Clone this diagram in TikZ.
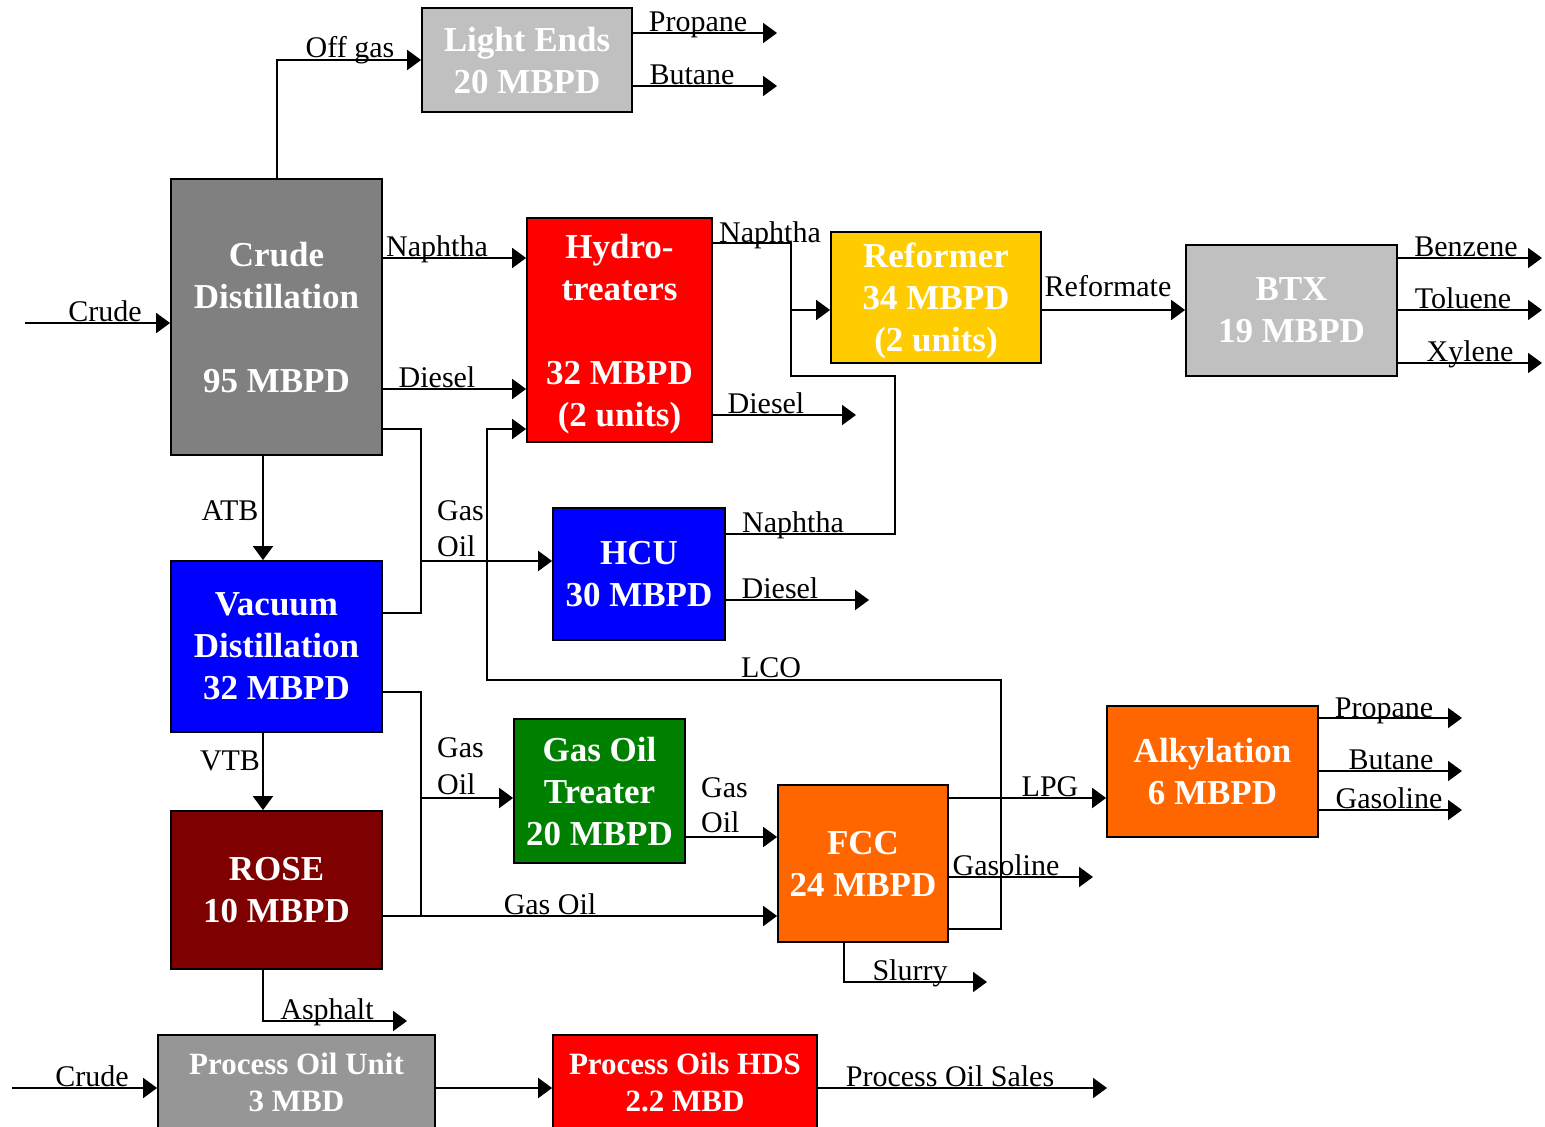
\documentclass[tikz,border=0pt]{standalone}
\usepackage{fontspec}
\setmainfont{Liberation Serif}
\usetikzlibrary{arrows.meta}
\definecolor{cdugray}{HTML}{808080}
\definecolor{ltgray}{HTML}{C0C0C0}
\definecolor{pougray}{HTML}{969696}
\definecolor{refyel}{HTML}{FFCC00}
\definecolor{htred}{HTML}{FF0000}
\definecolor{vblue}{HTML}{0000FF}
\definecolor{ggreen}{HTML}{008000}
\definecolor{forange}{HTML}{FF6600}
\definecolor{rosered}{HTML}{7F0000}
\tikzset{
  box/.style={draw=black, line width=1.8pt, inner sep=0pt, align=center, text=white,
    text depth=-6pt, font=\bfseries\fontsize{35}{42}\selectfont},
  sbox/.style={box, text depth=-2pt, font=\bfseries\fontsize{31}{37}\selectfont},
  arr/.style={line width=2pt, -{Triangle[length=14pt,width=20pt]}},
  plain/.style={line width=1.6pt},
  lab/.style={font=\fontsize{30}{34}\selectfont, inner sep=0pt, anchor=base},
  labl/.style={lab, anchor=base west}
}
\begin{document}
\begin{tikzpicture}[x=1pt,y=-1pt]
\useasboundingbox (0,0) rectangle (1545,1127);
\clip (0,0) rectangle (1545,1127);
% boxes
\node[box, fill=ltgray, minimum width=210pt, minimum height=104pt] (le) at (527,60) {Light Ends\\20 MBPD};
\node[box, fill=cdugray, minimum width=211pt, minimum height=276pt] (cdu) at (276.5,317) {Crude\\Distillation\\[42pt]95 MBPD};
\node[box, fill=htred, minimum width=185pt, minimum height=224pt] (ht) at (619.5,330) {Hydro-\\treaters\\[42pt]32 MBPD\\(2 units)};
\node[box, fill=refyel, minimum width=210pt, minimum height=131pt] (ref) at (936,297.5) {Reformer\\34 MBPD\\(2 units)};
\node[box, fill=ltgray, minimum width=211pt, minimum height=131pt] (btx) at (1291.5,310.5) {BTX\\19 MBPD};
\node[box, fill=vblue, minimum width=172pt, minimum height=132pt] (hcu) at (639,574) {HCU\\30 MBPD};
\node[box, fill=vblue, minimum width=211pt, minimum height=171pt] (vdu) at (276.5,646.5) {Vacuum\\Distillation\\32 MBPD};
\node[box, fill=ggreen, minimum width=171pt, minimum height=144pt] (got) at (599.5,791) {Gas Oil\\Treater\\20 MBPD};
\node[box, fill=forange, minimum width=170pt, minimum height=157pt] (fcc) at (863,863.5) {FCC\\24 MBPD};
\node[box, fill=forange, minimum width=211pt, minimum height=131pt] (alk) at (1212.5,771.5) {Alkylation\\6 MBPD};
\node[box, fill=rosered, minimum width=211pt, minimum height=158pt] (rose) at (276.5,890) {ROSE\\10 MBPD};
\node[sbox, fill=pougray, minimum width=277pt, minimum height=95pt] (pou) at (296.5,1082.5) {Process Oil Unit\\3 MBD};
\node[sbox, fill=htred, minimum width=264pt, minimum height=95pt] (hds) at (685,1082.5) {Process Oils HDS\\2.2 MBD};
% free ends and junctions
\coordinate (cin) at (25,323);
\coordinate (cin2) at (12,1088);
\coordinate (pro1) at (777,33);
\coordinate (but1) at (777,86);
\coordinate (j1) at (421,561);
\coordinate (j2) at (421,798);
\coordinate (j3) at (421,916);
\coordinate (l1) at (1001,680);
\coordinate (l2) at (487,680);
\coordinate (n1) at (791,310);
\coordinate (n2) at (895,376);
\coordinate (dsl1) at (856,415);
\coordinate (dsl2) at (869,600);
\coordinate (benz) at (1542,258);
\coordinate (tol) at (1542,310);
\coordinate (xyl) at (1542,363);
\coordinate (gas1) at (1093,877);
\coordinate (slur) at (987,982);
\coordinate (pro2) at (1462,718);
\coordinate (but2) at (1462,771);
\coordinate (gas2) at (1462,810);
\coordinate (asph) at (407,1021);
\coordinate (sales) at (1107,1088);
% connectors
\draw[arr] (cdu.north) |- (le.west);
\draw[arr] (le.east |- pro1) -- (pro1);
\draw[arr] (le.east |- but1) -- (but1);
\draw[arr] (cin) -- (cdu.west |- cin);
\draw[arr] (cdu.east |- 0,258) -- (ht.west |- 0,258);
\draw[arr] (cdu.east |- 0,389) -- (ht.west |- 0,389);
\draw[plain] (cdu.east |- 0,429) -| (j1) |- (vdu.east |- 0,613);
\draw[arr] (j1) -- (hcu.west |- j1);
\draw[arr] (fcc.east |- 0,929) -| (l1) -- (l2) |- (ht.west |- 0,429);
\draw[arr] (cdu.south -| 263,0) -- (vdu.north -| 263,0);
\draw[arr] (vdu.south -| 263,0) -- (rose.north -| 263,0);
\draw[plain] (vdu.east |- 0,692) -| (j3);
\draw[arr] (j2) -- (got.west |- j2);
\draw[arr] (rose.east |- j3) -- (fcc.west |- j3);
\draw[arr] (got.east |- 0,837) -- (fcc.west |- 0,837);
\draw[arr] (ht.east |- 0,243) -| (n1) -- (ref.west |- n1);
\draw[plain] (n1) |- (n2) |- (hcu.east |- 0,534);
\draw[arr] (ht.east |- dsl1) -- (dsl1);
\draw[arr] (hcu.east |- dsl2) -- (dsl2);
\draw[arr] (ref.east |- 0,310) -- (btx.west |- 0,310);
\draw[arr] (btx.east |- benz) -- (benz);
\draw[arr] (btx.east |- tol) -- (tol);
\draw[arr] (btx.east |- xyl) -- (xyl);
\draw[arr] (fcc.east |- 0,798) -- (alk.west |- 0,798);
\draw[arr] (fcc.east |- gas1) -- (gas1);
\draw[arr] (fcc.south -| 844,0) |- (slur);
\draw[arr] (alk.east |- pro2) -- (pro2);
\draw[arr] (alk.east |- but2) -- (but2);
\draw[arr] (alk.east |- gas2) -- (gas2);
\draw[arr] (rose.south -| 263,0) |- (asph);
\draw[arr] (cin2) -- (pou.west |- cin2);
\draw[arr] (pou.east |- 0,1088) -- (hds.west |- 0,1088);
\draw[arr] (hds.east |- sales) -- (sales);
% labels
\node[lab] (t1) at (350,57) {Off gas};
\node[lab] (t2) at (698,31) {Propane};
\node[lab] (t3) at (692,84) {Butane};
\node[lab] (t4) at (105,321) {Crude};
\node[lab] (t5) at (437,256) {Naphtha};
\node[lab] (t6) at (437,387) {Diesel};
\node[lab] (t7) at (770,242) {Naphtha};
\node[lab] (t8) at (766,413) {Diesel};
\node[lab] (t9) at (1108,296) {Reformate};
\node[lab] (t10) at (1466,256) {Benzene};
\node[lab] (t11) at (1463,308) {Toluene};
\node[lab] (t12) at (1470,361) {Xylene};
\node[lab] (t13) at (230,520) {ATB};
\node[labl] (t14) at (437,520) {Gas};
\node[labl] (t15) at (437,556) {Oil};
\node[lab] (t16) at (793,532) {Naphtha};
\node[lab] (t17) at (780,598) {Diesel};
\node[lab] (t18) at (771,677) {LCO};
\node[lab] (t19) at (230,770) {VTB};
\node[labl] (t20) at (437,757) {Gas};
\node[labl] (t21) at (437,794) {Oil};
\node[labl] (t22) at (701,797) {Gas};
\node[labl] (t23) at (701,832) {Oil};
\node[lab] (t24) at (550,914) {Gas Oil};
\node[lab] (t25) at (1050,796) {LPG};
\node[lab] (t26) at (1006,875) {Gasoline};
\node[lab] (t27) at (910,980) {Slurry};
\node[lab] (t28) at (1384,717) {Propane};
\node[lab] (t29) at (1391,769) {Butane};
\node[lab] (t30) at (1389,808) {Gasoline};
\node[lab] (t31) at (327,1019) {Asphalt};
\node[lab] (t32) at (92,1086) {Crude};
\node[lab] (t33) at (950,1086) {Process Oil Sales};
\end{tikzpicture}
\end{document}
